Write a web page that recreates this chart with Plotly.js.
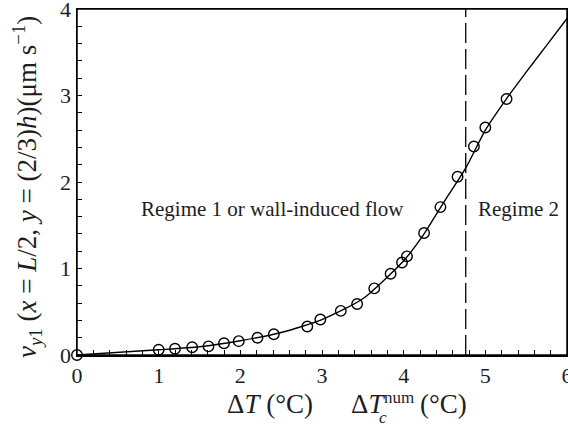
<!DOCTYPE html>
<html>
<head>
<meta charset="utf-8">
<script src="https://cdn.plot.ly/plotly-3.0.1.min.js"></script>
<style>html,body{margin:0;padding:0;background:#fff;}#chart{width:568px;height:425px;}</style>
</head>
<body>
<div id="chart"></div>
<script>
// Measured points (open circles)
const deltaT = [0, 1.0, 1.2, 1.41, 1.61, 1.8, 1.98, 2.21, 2.41, 2.82, 2.98, 3.23, 3.43, 3.64, 3.84, 3.98, 4.04, 4.25, 4.45, 4.66, 4.86, 5.0, 5.26];
const velocity = [0, 0.06, 0.073, 0.09, 0.10, 0.135, 0.16, 0.20, 0.24, 0.33, 0.41, 0.51, 0.59, 0.77, 0.94, 1.07, 1.14, 1.41, 1.71, 2.06, 2.41, 2.63, 2.96];
// Solid curve
const curveT = [0, 1.0, 1.5, 2.0, 2.5, 3.0, 3.5, 4.0, 4.25, 4.5, 4.76, 5.0, 5.25, 5.5, 5.75, 6.0];
const curveV = [0, 0.06, 0.095, 0.165, 0.26, 0.41, 0.65, 1.09, 1.40, 1.78, 2.16, 2.60, 2.95, 3.27, 3.58, 3.89];
// Critical temperature difference
const criticalT = 4.76;
const xTickVals = [0, 1, 2, 3, 4, 5, 6];
const yTickVals = [0, 1, 2, 3, 4];

const FONT = '"Liberation Serif", "Times New Roman", serif';
const INK = '#1e1e1e';

const traces = [
  {x: curveT, y: curveV, mode: 'lines', line: {color: '#000', width: 1.4, shape: 'spline', smoothing: 0.6}, hoverinfo: 'skip', cliponaxis: false},
  {x: deltaT, y: velocity, mode: 'markers', marker: {symbol: 'circle-open', size: 10.5, color: '#000', line: {width: 1.4, color: '#000'}}, cliponaxis: false}
];

const axisCommon = {
  showline: true, mirror: true, linecolor: '#000', linewidth: 1.5,
  ticks: 'inside', ticklen: 5, tickwidth: 1, tickcolor: '#000',
  showgrid: false, zeroline: false, ticklabeloverflow: 'allow',
  tickfont: {family: FONT, size: 22, color: INK},
  minor: {dtick: 0.2, ticks: 'inside', ticklen: 5, tickwidth: 1, tickcolor: '#000', showgrid: false}
};

function px(xp) { return (xp - 77) / 490; }
function py(yp) { return (355 - yp) / 346; }

const layout = {
  width: 568, height: 425,
  margin: {l: 77, r: 1, t: 9, b: 70},
  paper_bgcolor: '#fff', plot_bgcolor: '#fff',
  showlegend: false,
  xaxis: Object.assign({}, axisCommon, {range: [0, 6], tickvals: xTickVals, ticktext: xTickVals.map(String)}),
  yaxis: Object.assign({}, axisCommon, {range: [0, 4], tickvals: yTickVals, ticktext: yTickVals.map(String)}),
  shapes: [
    {type: 'line', xref: 'x', yref: 'y', x0: criticalT, x1: criticalT, y0: 0, y1: 4,
     line: {color: '#000', width: 1.3, dash: '20px,6px'}},
    {type: 'rect', xref: 'paper', yref: 'paper', x0: 0, x1: 1, y0: 0, y1: 1,
     line: {color: '#000', width: 1.5}, fillcolor: 'rgba(0,0,0,0)'}
  ],
  annotations: [
    {xref: 'x', yref: 'y', x: 2.39, y: 1.69, text: 'Regime 1 or wall-induced flow', showarrow: false,
     font: {family: FONT, size: 21, color: INK}},
    {xref: 'x', yref: 'y', x: 5.40, y: 1.69, text: 'Regime 2', showarrow: false,
     font: {family: FONT, size: 21, color: INK}},
    {xref: 'x', yref: 'y', x: criticalT, y: -0.01, text: '', showarrow: true, ax: -53, ay: 35,
     arrowhead: 2, arrowsize: 1.3, arrowwidth: 1.5, arrowcolor: '#000'},
    {xref: 'paper', yref: 'paper', x: px(270), y: py(404), text: 'Δ<i>T</i> (°C)', showarrow: false,
     xanchor: 'center', yanchor: 'middle', font: {family: FONT, size: 27, color: INK}},
    {xref: 'paper', yref: 'paper', x: px(349), y: py(404), text: 'Δ<i>T</i>', showarrow: false,
     xanchor: 'left', yanchor: 'middle', font: {family: FONT, size: 27, color: INK}},
    {xref: 'paper', yref: 'paper', x: px(382), y: py(397), text: 'num', showarrow: false,
     xanchor: 'left', yanchor: 'middle', font: {family: FONT, size: 17, color: INK}},
    {xref: 'paper', yref: 'paper', x: px(377), y: py(417), text: '<i>c</i>', showarrow: false,
     xanchor: 'left', yanchor: 'middle', font: {family: FONT, size: 17, color: INK}},
    {xref: 'paper', yref: 'paper', x: px(418), y: py(404), text: '(°C)', showarrow: false,
     xanchor: 'left', yanchor: 'middle', font: {family: FONT, size: 27, color: INK}},
    {xref: 'paper', yref: 'paper', x: 0, xshift: -50, y: py(187), textangle: -90, showarrow: false,
     xanchor: 'center', yanchor: 'middle',
     text: '<i>v</i><sub><i>y</i>1</sub> (<i>x</i> = <i>L</i>/2, <i>y</i> = (2/3)<i>h</i>)(μm s<sup>−1</sup>)',
     font: {family: FONT, size: 27, color: INK}}
  ]
};

Plotly.newPlot('chart', traces, layout, {displayModeBar: false, staticPlot: true});
</script>
</body>
</html>
